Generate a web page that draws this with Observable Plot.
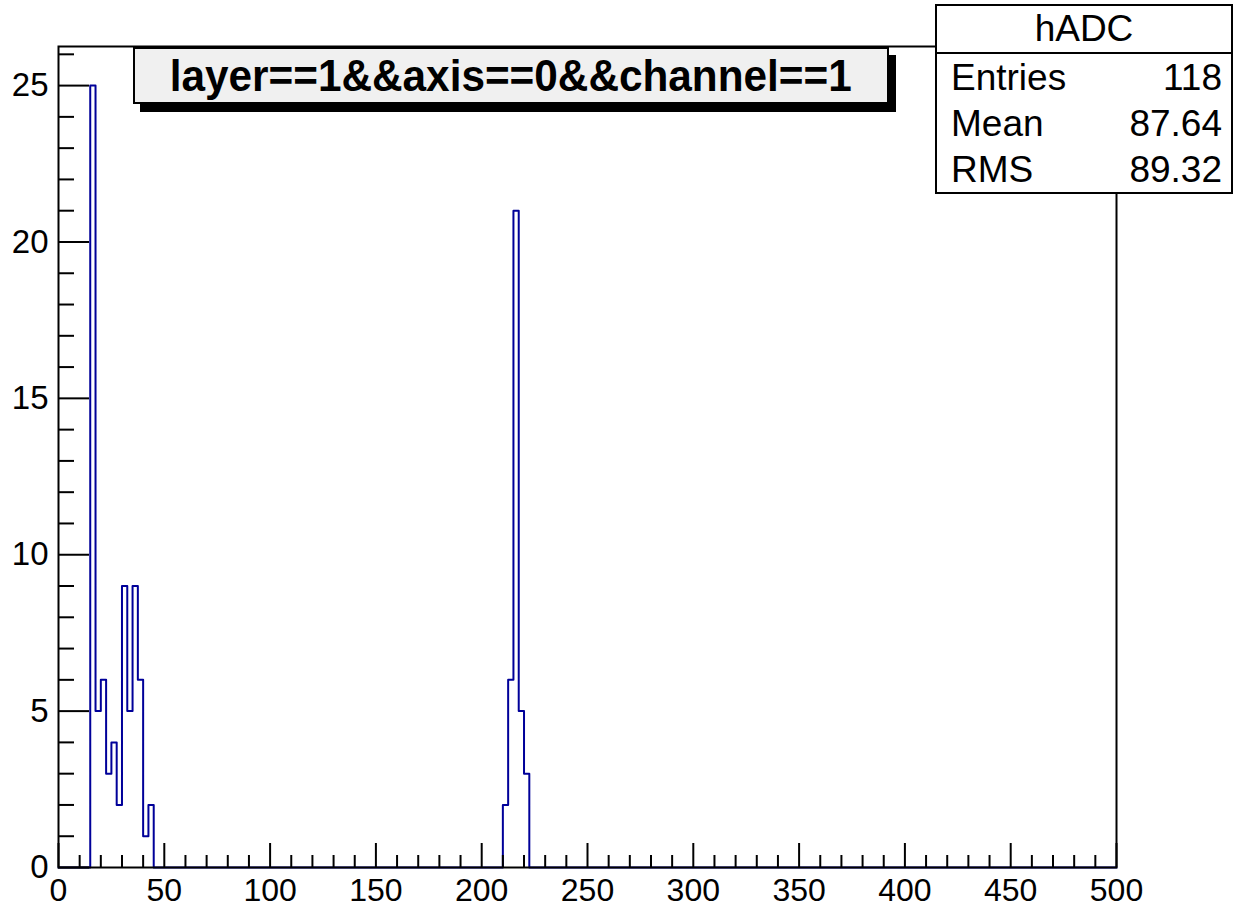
<!DOCTYPE html>
<html>
<head>
<meta charset="utf-8">
<script src="https://cdn.jsdelivr.net/npm/d3@7"></script>
<script src="https://cdn.jsdelivr.net/npm/@observablehq/plot@0.6"></script>
<style>
  body { margin: 0; background: #fff; }
  #wrap { position: relative; width: 1234px; height: 908px; overflow: hidden; background: #fff;
          font-family: "Liberation Sans", Arial, Helvetica, sans-serif; color: #000; }
  #chart { position: absolute; left: 0; top: 0; }
  #title { position: absolute; left: 133px; top: 47px; width: 752px; height: 53px;
           background: #f0f0f0; border: 2px solid #000; box-shadow: 7px 8px 0 #000;
           display: flex; align-items: center; justify-content: center; }
  #title span { font-weight: bold; font-size: 45px; white-space: nowrap; transform: scaleX(0.94); display: inline-block; }
  #stats { position: absolute; left: 935px; top: 4px; width: 294px; background: #fff;
           border: 2px solid #000; font-size: 37px; }
  #stats .hdr { height: 46px; line-height: 46px; text-align: center; border-bottom: 2px solid #000; }
  #stats .row { height: 46px; line-height: 48px; display: flex; justify-content: space-between;
                padding: 0 9px 0 14px; }
</style>
</head>
<body>
<div id="wrap">
  <div id="chart"></div>
  <div id="title"><span></span></div>
  <div id="stats"></div>
</div>
<script>
// ---- data ----
const titleText = "layer==1&&axis==0&&channel==1";
const histName = "hADC";
const statLabels = ["Entries", "Mean", "RMS"];
const statValues = ["118", "87.64", "89.32"];

const xMin = 0, xMax = 500, binWidth = 2.5;
const binLow = [15, 17.5, 20, 22.5, 25, 27.5, 30, 32.5, 35, 37.5, 40, 42.5,
                210, 212.5, 215, 217.5, 220];
const binCounts = [25, 5, 6, 3, 4, 2, 9, 5, 9, 6, 1, 2,
                   2, 6, 21, 5, 3];
const yMaxFrame = 26.25;

const xMajor = [0, 50, 100, 150, 200, 250, 300, 350, 400, 450, 500];
const xMinor = [10, 20, 30, 40, 60, 70, 80, 90, 110, 120, 130, 140, 160, 170, 180, 190,
                210, 220, 230, 240, 260, 270, 280, 290, 310, 320, 330, 340, 360, 370, 380, 390,
                410, 420, 430, 440, 460, 470, 480, 490];
const yMajor = [0, 5, 10, 15, 20, 25];
const yMinor = [1, 2, 3, 4, 6, 7, 8, 9, 11, 12, 13, 14, 16, 17, 18, 19, 21, 22, 23, 24, 26];

// ---- build the full binned table (empty bins are zero) ----
const nBins = Math.round((xMax - xMin) / binWidth);
const steps = d3.range(nBins + 1).map(i => ({x: xMin + i * binWidth, y: 0}));
binLow.forEach((lo, j) => { steps[Math.round((lo - xMin) / binWidth)].y = binCounts[j]; });
steps[nBins].y = steps[nBins - 1].y;

const blank = () => "";
const chart = Plot.plot({
  width: 1234,
  height: 908,
  marginLeft: 58,
  marginRight: 118,
  marginTop: 46,
  marginBottom: 41,
  style: {fontFamily: '"Liberation Sans", Arial, Helvetica, sans-serif', fontSize: "33px", color: "#000", background: "#fff", overflow: "visible"},
  x: {domain: [xMin, xMax]},
  y: {domain: [0, yMaxFrame]},
  marks: [
    Plot.line(steps, {x: "x", y: "y", curve: "step-after", stroke: "#000099", strokeWidth: 2}),
    Plot.axisX(xMinor, {tickSize: -12, tickFormat: blank, label: null, strokeWidth: 2}),
    Plot.axisX(xMajor, {tickSize: -24, tickFormat: blank, label: null, strokeWidth: 2}),
    Plot.axisX(xMajor, {tickSize: 0, tickPadding: 11, label: null, fontSize: 32}),
    Plot.axisY(yMinor, {tickSize: -16, tickFormat: blank, label: null, strokeWidth: 2}),
    Plot.axisY(yMajor, {tickSize: -31, tickFormat: blank, label: null, strokeWidth: 2}),
    Plot.axisY(yMajor, {tickSize: 0, tickPadding: 10, label: null, fontSize: 33}),
    Plot.frame({stroke: "#000", strokeWidth: 2})
  ]
});
document.getElementById("chart").appendChild(chart);

document.querySelector("#title span").textContent = titleText;
const stats = d3.select("#stats");
stats.append("div").attr("class", "hdr").text(histName);
statLabels.forEach((lab, i) => {
  const r = stats.append("div").attr("class", "row");
  r.append("span").text(lab);
  r.append("span").text(statValues[i]);
});
</script>
</body>
</html>
